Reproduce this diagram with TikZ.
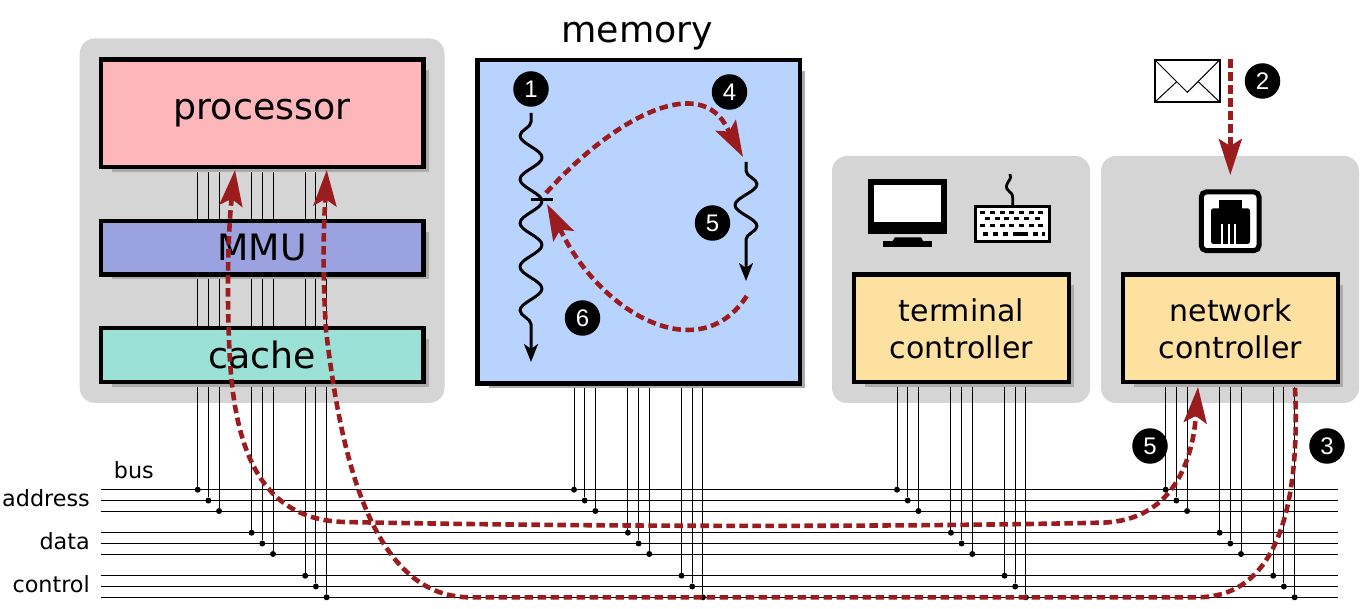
\documentclass[tikz,border=0pt]{standalone}
\usepackage{fontspec}
\setmainfont{DejaVu Sans}
\newfontfamily\badgefont{Liberation Sans}
\usetikzlibrary{positioning,fit,backgrounds,arrows.meta,decorations.pathmorphing}
\definecolor{panelgrey}{HTML}{D5D5D5}
\definecolor{procred}{HTML}{FDB6B9}
\definecolor{mmublue}{HTML}{9AA2E0}
\definecolor{cachegreen}{HTML}{9BE1D6}
\definecolor{memblue}{HTML}{B8D4FE}
\definecolor{ctrlyellow}{HTML}{FDE1A0}
\definecolor{flowred}{HTML}{9B1C1F}
\begin{document}
\begin{tikzpicture}[x=1pt,y=-1pt,
  box/.style={draw,line width=4.2pt,outer sep=0pt,inner sep=0pt,minimum width=322.8pt},
  ctrl/.style={box,fill=ctrlyellow,minimum width=215pt,minimum height=107.5pt,align=center,
    text depth=-4pt,font=\fontsize{30}{37}\selectfont},
  big/.style={font=\fontsize{36.3}{36}\selectfont},
  panel/.style={fill=panelgrey,rounded corners=15pt,inner sep=0pt},
  cast/.style={fill=black!33},
  wire/.style={line width=.9pt},
  dot/.style={circle,fill=black,inner sep=0pt,minimum size=6pt},
  buslabel/.style={anchor=base east,inner sep=0pt,font=\fontsize{22.3}{24}\selectfont},
  badge/.style={circle,fill=black,text=white,inner sep=0pt,minimum size=35.5pt,
    font=\badgefont\fontsize{24}{24}\selectfont},
  flow/.style={draw=flowred,line width=4.6pt,dash pattern=on 8.5pt off 4.5pt},
  flowtip/.tip={Stealth[length=36pt,width=23pt,inset=7pt]},
  thread/.style={line width=3pt,line join=round,-{Stealth[length=18pt,width=14pt,inset=5pt]},decorate},
  keycap/.style={fill=black,inner sep=0pt,minimum width=5pt,minimum height=3.3pt}]
  \useasboundingbox (0,0) rectangle (1363,609);

  \node[box,big,fill=procred,minimum height=107.5pt] (proc) at (262.1,113.25) {processor};
  \node[box,big,fill=mmublue,minimum height=53.8pt]  (mmu)   [below=53.7pt of proc] {MMU};
  \node[box,big,fill=cachegreen,minimum height=53.8pt] (cache) [below=53.5pt of mmu] {cache};
  \node[box,fill=memblue,minimum width=322.5pt,minimum height=323.5pt] (mem) at (638.75,221.75) {};
  \node[big,inner sep=0pt,xshift=-1.5pt] (memlabel) [above=9.5pt of mem] {memory};
  \node[ctrl] (term) at (961.5,328.25) {terminal\\controller};
  \node[ctrl] (net)  at (1230.5,328.25) {network\\controller};

  \begin{scope}[on background layer]
    \node[panel,fit=(proc)(cache),inner sep=21pt] (cpupanel) {};
    \node[panel,minimum width=258pt,minimum height=247pt] (termpanel) at (961,279.5) {};
    \node[panel,minimum width=258pt,minimum height=247pt] (netpanel)  at (1230,279.5) {};
    \foreach \l/\y in {a1/489.7,a2/500.5,a3/511,d1/532.7,d2/543.5,d3/554,c1/575.7,c2/586.5,c3/597.3} {
      \coordinate (\l west) at (101,\y);
      \coordinate (\l east) at (1338,\y);
      \draw[wire] (\l west) -- (\l east);
    }
    \foreach \dev/\xo in {proc/197.7,mem/574,term/897,net/1165.7}
      \foreach \n/\dx/\y in {1/0/489.7,2/10.7/500.5,3/21.4/511,4/53.9/532.7,5/64.6/543.5,6/75.3/554,
                             7/107.5/575.7,8/118.2/586.5,9/128.9/597.3} {
        \node[dot] (\dev\n) at ({\xo+\dx},\y) {};
        \draw[wire] (\dev.south -| \dev\n) -- (\dev\n);
      }
    \foreach \b in {proc,mmu,cache,mem,term,net}
      \fill[cast] ([xshift=11pt,yshift=-11pt]\b.north west) rectangle ([xshift=5pt,yshift=-5pt]\b.south east);
  \end{scope}

  \node[buslabel] (buslab)  at (154,478.3) {bus};
  \node[buslabel] (addrlab) at (90,506)    {address};
  \node[buslabel] (datalab) at (90,549.3)  {data};
  \node[buslabel] (ctrllab) at (90,592.3)  {control};

  \node[badge] (n1) at (531,89)     {1};
  \node[badge] (n4) at (729.5,92)   {4};
  \node[badge] (n5) at (712.5,223)  {5};
  \node[badge] (n6) at (582.5,318)  {6};
  \node[badge] (n2) at (1262.5,81)  {2};
  \node[badge] (n7) at (1150,446)   {5};
  \node[badge] (n3) at (1327,446)   {3};

  \coordinate (t1top) at (531,113);
  \coordinate (t1end) at (531,362);
  \coordinate (t2top) at (746,162);
  \coordinate (t2end) at (746,281);
  \coordinate (barl)  at (531,199.5);
  \coordinate (barr)  at (553,199.5);
  \draw[thread,decoration={snake,mirror,amplitude=11pt,segment length=43.7pt,pre length=9pt,post length=21pt}] (t1top) -- (t1end);
  \draw[thread,decoration={snake,amplitude=11pt,segment length=42pt,pre length=9pt,post length=26pt}] (t2top) -- (t2end);
  \draw[line width=3pt] (barl) -- (barr);

  \fill (868.3,179.3) rectangle (946.7,234);
  \fill[white] (874,185) rectangle (941,222.3);
  \fill (883.3,241.3) rectangle (932,247.3);
  \fill (895,237.3) -- (921,237.3) -- (923.3,241.5) -- (892.3,241.5) -- cycle;

  \draw[line width=2.8pt] (1012.7,205) -- (1012.7,198) .. controls (1012.7,190) and (1005,192) .. (1006.7,185)
    .. controls (1008,180) and (1012,180) .. (1010,174);
  \draw[line width=3pt,fill=white] (975.5,206.5) rectangle (1049.5,242);
  \foreach \ky in {212.7,225.7}
    \foreach \kk in {0,...,6}
      \node[keycap] at ({982.7+9.67*\kk},\ky) {};
  \foreach \kx in {987.3,997,1006.7,1016.3,1026,1037.3}
    \node[keycap] at (\kx,218.7) {};
  \foreach \kx in {985.7,995.3,1005,1035}
    \node[keycap] at (\kx,234) {};
  \node[keycap,minimum width=15.7pt] at (1020.5,234) {};
  \node[keycap,minimum width=3pt] at (1043,234) {};

  \draw[line width=5pt,rounded corners=5pt,fill=white] (1201.3,191.9) rectangle (1259,250.6);
  \fill (1219.3,199.7) rectangle (1241.7,210);
  \fill[rounded corners=2.5pt] (1211,208.3) rectangle (1250,244);
  \foreach \sx in {1221,1227.5,1234}
    \fill[white] (\sx,224.3) rectangle ({\sx+2.3},244.3);

  \draw[line width=2pt,fill=white] (1154.7,59.7) rectangle (1219.7,102.3);
  \draw[line width=1pt] (1155,60) -- (1187.3,92.3) -- (1219.7,60);
  \draw[line width=1pt] (1155,102) -- (1176.7,81.7);
  \draw[line width=1pt] (1219.7,102) -- (1198.3,81.7);

  \coordinate (f4a) at (546,193);
  \coordinate (f4m) at (725,124);
  \coordinate (f4b) at (743,157);
  \draw[flow,-flowtip] (f4a) .. controls (612,120) and (695,75) .. (f4m) -- (f4b);
  \coordinate (f6a) at (746.7,296);
  \coordinate (f6m) at (563,235);
  \coordinate (f6b) at (547,204);
  \draw[flow,-flowtip] (f6a) .. controls (700,368) and (604,315) .. (f6m) -- (f6b);
  \coordinate (f2a) at (1230.3,59.3);
  \coordinate (f2b) at (1230.3,175);
  \draw[flow,-flowtip] (f2a) -- (f2b);
  \coordinate (f5a) at (235,170);
  \coordinate (f5m) at (231,205);
  \coordinate (f5b) at (229,340);
  \coordinate (f5c) at (345,522);
  \coordinate (f5d) at (1100,522.7);
  \coordinate (f5n) at (1195,425);
  \coordinate (f5e) at (1198,387);
  \draw[flow,flowtip-flowtip] (f5a) -- (f5m) .. controls (228,240) and (227,290) .. (f5b)
    .. controls (232,430) and (250,520) .. (f5c)
    .. controls (600,527) and (900,527) .. (f5d)
    .. controls (1160,522) and (1188,480) .. (f5n) -- (f5e);
  \coordinate (f3a) at (1295,388);
  \coordinate (f3b) at (1197,597.3);
  \coordinate (f3c) at (470,597.3);
  \coordinate (f3d) at (326,330);
  \coordinate (f3m) at (325,205);
  \coordinate (f3e) at (326.7,170);
  \draw[flow,-flowtip] (f3a) .. controls (1300,500) and (1280,597.3) .. (f3b)
    -- (f3c) .. controls (370,597.3) and (340,450) .. (f3d)
    .. controls (323,280) and (323,240) .. (f3m) -- (f3e);
\end{tikzpicture}
\end{document}
